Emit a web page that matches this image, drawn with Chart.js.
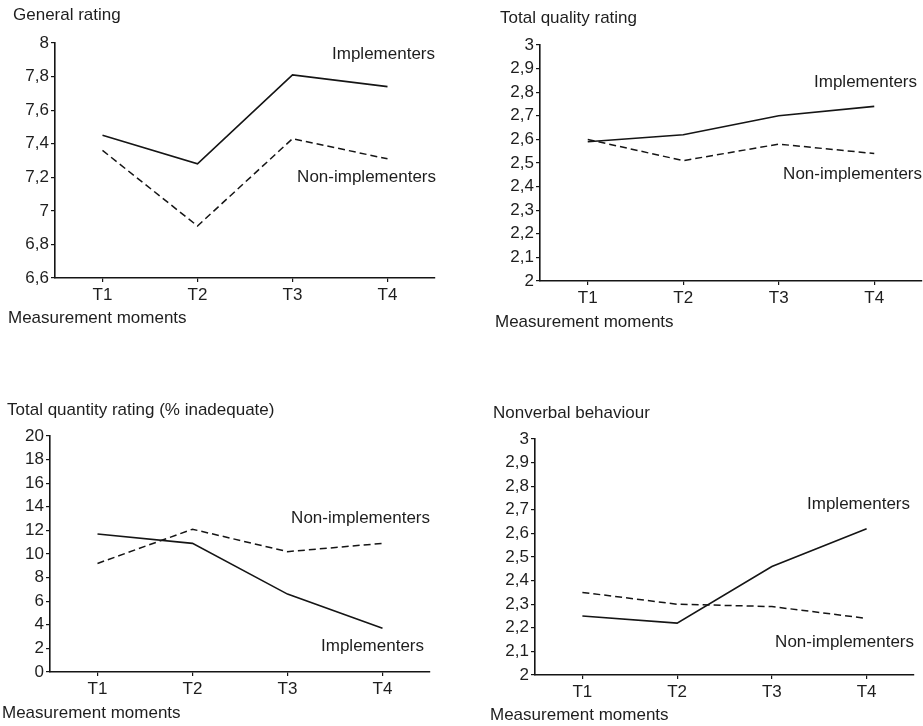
<!DOCTYPE html>
<html><head><meta charset="utf-8">
<script src="https://cdn.jsdelivr.net/npm/chart.js@4.4.1/dist/chart.umd.min.js"></script>
<style>
html,body{margin:0;padding:0;background:#fff;}
body{width:923px;height:726px;position:relative;overflow:hidden;}
canvas{position:absolute;}
</style></head><body>
<canvas id="c1" width="460" height="390" style="left:0px;top:0px"></canvas>
<canvas id="c2" width="463" height="390" style="left:460px;top:0px"></canvas>
<canvas id="c3" width="460" height="336" style="left:0px;top:390px"></canvas>
<canvas id="c4" width="463" height="336" style="left:460px;top:390px"></canvas>
<script>
// ---- data ----
const moments = ['T1', 'T2', 'T3', 'T4'];

const generalImpl = [7.45, 7.28, 7.81, 7.74];
const generalNon  = [7.36, 6.91, 7.43, 7.31];
const generalTickValues = [6.6, 6.8, 7, 7.2, 7.4, 7.6, 7.8, 8];
const generalTickLabels = ['6,6', '6,8', '7', '7,2', '7,4', '7,6', '7,8', '8'];

const qualityImpl = [2.59, 2.62, 2.70, 2.74];
const qualityNon  = [2.60, 2.51, 2.58, 2.54];
const qualityTickValues = [2, 2.1, 2.2, 2.3, 2.4, 2.5, 2.6, 2.7, 2.8, 2.9, 3];
const qualityTickLabels = ['2', '2,1', '2,2', '2,3', '2,4', '2,5', '2,6', '2,7', '2,8', '2,9', '3'];

const quantityImpl = [11.7, 10.9, 6.6, 3.7];
const quantityNon  = [9.2, 12.1, 10.2, 10.9];
const quantityTickValues = [0, 2, 4, 6, 8, 10, 12, 14, 16, 18, 20];
const quantityTickLabels = ['0', '2', '4', '6', '8', '10', '12', '14', '16', '18', '20'];

const nonverbalImpl = [2.25, 2.22, 2.46, 2.62];
const nonverbalNon  = [2.35, 2.30, 2.29, 2.24];
const nonverbalTickValues = [2, 2.1, 2.2, 2.3, 2.4, 2.5, 2.6, 2.7, 2.8, 2.9, 3];
const nonverbalTickLabels = ['2', '2,1', '2,2', '2,3', '2,4', '2,5', '2,6', '2,7', '2,8', '2,9', '3'];

const implLabel = 'Implementers';
const nonLabel = 'Non-implementers';
const xCaption = 'Measurement moments';

// ---- style ----
const FONT_FAMILY = "'Liberation Sans', Arial, Helvetica, sans-serif";
const FONT_SIZE = 17;
const TEXT = '#1e1e1e';
const INK = '#151515';
const YW = 45, XH = 30;

const annotPlugin = {
  id: 'annot',
  afterDraw(chart, args, o) {
    const ctx = chart.ctx, a = chart.chartArea, ys = chart.scales.y;
    ctx.save();
    ctx.fillStyle = TEXT;
    ctx.font = FONT_SIZE + 'px ' + FONT_FAMILY;
    ctx.textBaseline = 'middle';
    ctx.textAlign = 'left';
    ctx.fillText(o.title, o.titleX, o.titleY);
    ctx.fillText(xCaption, o.captionX, o.captionY);
    ctx.textAlign = 'right';
    ctx.fillText(implLabel, a.right + o.implDx, ys.getPixelForValue(o.implAt));
    ctx.fillText(nonLabel, a.right + o.nonDx, ys.getPixelForValue(o.nonAt));
    ctx.restore();
  }
};

function panel(id, impl, non, tickValues, tickLabels, area, ann) {
  const cv = document.getElementById(id);
  const cw = cv.width, ch = cv.height;
  new Chart(cv, {
    type: 'line',
    data: {
      labels: moments,
      datasets: [
        { label: implLabel, data: impl, borderColor: INK, borderWidth: 1.6, pointRadius: 0, tension: 0, fill: false },
        { label: nonLabel, data: non, borderColor: INK, borderWidth: 1.5, borderDash: [7, 4], pointRadius: 0, tension: 0, fill: false }
      ]
    },
    options: {
      responsive: false,
      animation: false,
      devicePixelRatio: 1,
      layout: { padding: { left: area.left - YW, top: area.top, right: cw - area.right, bottom: ch - area.bottom - XH } },
      plugins: { legend: { display: false }, tooltip: { enabled: false }, title: { display: false }, annot: ann },
      scales: {
        x: {
          type: 'category',
          offset: true,
          afterFit(s) { s.height = XH; },
          border: { display: true, color: INK, width: 1.6 },
          grid: { drawOnChartArea: false, drawTicks: true, tickLength: 4, color: INK, lineWidth: 1.2 },
          ticks: { color: TEXT, padding: 3, font: { family: FONT_FAMILY, size: FONT_SIZE }, maxRotation: 0 }
        },
        y: {
          type: 'linear',
          min: tickValues[0],
          max: tickValues[tickValues.length - 1],
          afterFit(s) { s.width = YW; },
          afterBuildTicks(s) { s.ticks = tickValues.map(v => ({ value: v })); },
          border: { display: true, color: INK, width: 1.6 },
          grid: { drawOnChartArea: false, drawTicks: true, tickLength: 4, color: INK, lineWidth: 1.2 },
          ticks: {
            color: TEXT, padding: 2, font: { family: FONT_FAMILY, size: FONT_SIZE },
            callback: (v, i) => tickLabels[i]
          }
        }
      }
    },
    plugins: [annotPlugin]
  });
}

panel('c1', generalImpl, generalNon, generalTickValues, generalTickLabels,
  { left: 55, top: 43, right: 435, bottom: 278 },
  { title: 'General rating', titleX: 13, titleY: 15, captionX: 8, captionY: 318, implAt: 7.93, implDx: 0, nonAt: 7.20, nonDx: 1 });

panel('c2', qualityImpl, qualityNon, qualityTickValues, qualityTickLabels,
  { left: 80, top: 45, right: 462, bottom: 281 },
  { title: 'Total quality rating', titleX: 40, titleY: 18, captionX: 35, captionY: 322, implAt: 2.84, implDx: -5, nonAt: 2.45, nonDx: 0 });

panel('c3', quantityImpl, quantityNon, quantityTickValues, quantityTickLabels,
  { left: 50, top: 46, right: 430, bottom: 282 },
  { title: 'Total quantity rating (% inadequate)', titleX: 7, titleY: 20, captionX: 2, captionY: 323, implAt: 2.17, implDx: -6, nonAt: 13.03, nonDx: 0 });

panel('c4', nonverbalImpl, nonverbalNon, nonverbalTickValues, nonverbalTickLabels,
  { left: 75, top: 49, right: 454, bottom: 285 },
  { title: 'Nonverbal behaviour', titleX: 33, titleY: 23, captionX: 30, captionY: 325, implAt: 2.724, implDx: -4, nonAt: 2.14, nonDx: 0 });
</script>
</body></html>
